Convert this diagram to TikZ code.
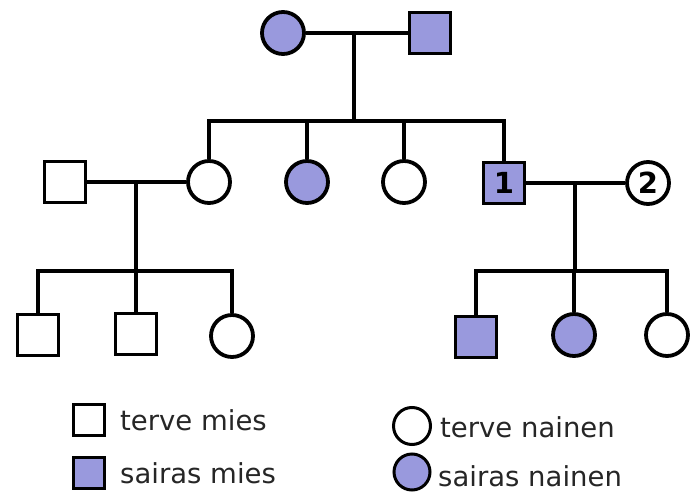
\documentclass[tikz,border=0pt]{standalone}
\usepackage{fontspec}
\setmainfont{DejaVu Sans}
\definecolor{sickfill}{HTML}{9999DD}
\begin{document}
\begin{tikzpicture}[x=1pt,y=-1pt,
  lineage/.style={draw=black, line width=4.2pt},
  person/.style={draw=black, line width=3.8pt, fill=white, inner sep=0pt,
    font=\fontsize{29}{32}\selectfont\bfseries},
  male/.style={person, rectangle, minimum size=41pt},
  female/.style={person, circle, minimum size=42pt},
  sick/.style={fill=sickfill},
  keysym/.style={line width=3pt},
  keytext/.style={anchor=base west, inner sep=0pt, text=black!85,
    font=\fontsize{27.5}{32}\selectfont}]
\useasboundingbox (0,0) rectangle (690,492);

% grandparents
\node[female, sick] (gm) at (283,33) {};
\node[male, sick]   (gf) at (430,33) {};

% their children and spouses
\node[male]         (h1) at (65,182)  {};
\node[female]       (c1) at (209,182) {};
\node[female, sick] (c2) at (307,182) {};
\node[female]       (c3) at (404,182) {};
\node[male, sick]   (s1) at (504,183) {1};
\node[female]       (w2) at (648,183) {2};

% grandchildren, left family
\node[male]   (d1) at (38,335)  {};
\node[male]   (d2) at (136,334) {};
\node[female] (d3) at (232,336) {};

% grandchildren, right family
\node[male, sick]   (e1) at (476,337) {};
\node[female, sick] (e2) at (574,335) {};
\node[female]       (e3) at (667,335) {};

% junction points
\coordinate (m0) at (354,33);
\coordinate (b0) at (354,121);
\coordinate (m1) at (136,182);
\coordinate (b1) at (136,271);
\coordinate (m2) at (575,183);
\coordinate (b2) at (575,271);

% first generation
\draw[lineage] (gm.east) -- (gf.west);
\draw[lineage] (m0) -- (b0);
\draw[lineage] (c1.north) |- (b0) -| (s1.north);
\draw[lineage] (c2.north) -- (c2.north |- b0);
\draw[lineage] (c3.north) -- (c3.north |- b0);

% left couple
\draw[lineage] (h1.east) -- (c1.west);
\draw[lineage] (m1) -- (b1);
\draw[lineage] (d1.north) |- (b1) -| (d3.north);
\draw[lineage] (d2.north) -- (d2.north |- b1);

% right couple
\draw[lineage] (s1.east) -- (w2.west);
\draw[lineage] (m2) -- (b2);
\draw[lineage] (e1.north) |- (b2) -| (e3.north);
\draw[lineage] (e2.north) -- (e2.north |- b2);

% key
\node[male, keysym, minimum size=31pt]         (km) at (89,420) {};
\node[male, sick, keysym, minimum size=31pt]   (ks) at (89,473) {};
\node[female, keysym, minimum size=37pt]       (kf) at (412,426) {};
\node[female, sick, keysym, minimum size=36pt] (kn) at (412,472) {};
\node[keytext] (tm) at (120,430) {terve mies};
\node[keytext] (sm) at (120,483) {sairas mies};
\node[keytext] (tf) at (440,437) {terve nainen};
\node[keytext] (sf) at (438,486) {sairas nainen};
\end{tikzpicture}
\end{document}
